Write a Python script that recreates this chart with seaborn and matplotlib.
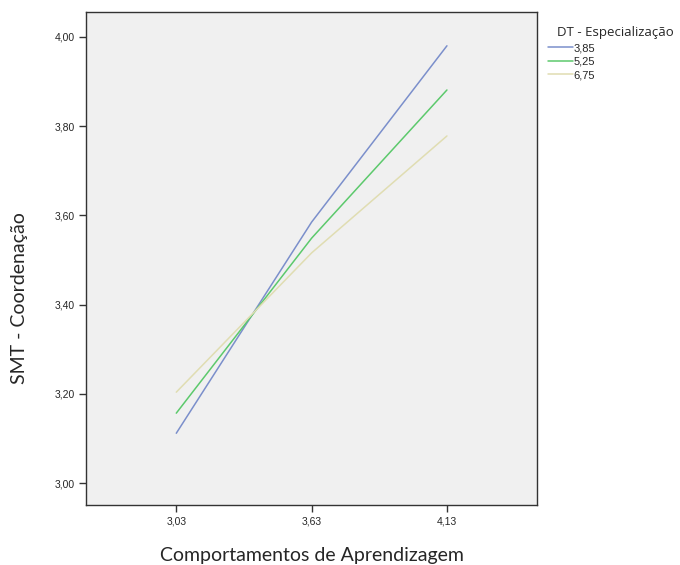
import matplotlib
matplotlib.use("Agg")
import matplotlib.pyplot as plt
import seaborn as sns
import pandas as pd

# Data
x_levels = ["3,03", "3,63", "4,13"]
groups = ["3,85", "5,25", "6,75"]
vals_385 = [3.112, 3.585, 3.980]
vals_525 = [3.157, 3.549, 3.881]
vals_675 = [3.204, 3.516, 3.778]
colors = ["#7b8fcb", "#5cc96c", "#e0ddb2"]

df = pd.DataFrame({
    "x": x_levels * 3,
    "y": vals_385 + vals_525 + vals_675,
    "grupo": [g for g in groups for _ in x_levels],
})

sns.set_style("white")
plt.rcParams['font.family'] = ['Liberation Sans', 'DejaVu Sans']

fig = plt.figure(figsize=(6.8, 5.65), dpi=100)
ax = fig.add_axes([0.1265, 0.106, 0.6635, 0.873])
ax.set_facecolor("#f0f0f0")

sns.lineplot(data=df, x="x", y="y", hue="grupo", palette=colors,
             sort=False, linewidth=1.1, ax=ax, legend=True)

ax.set_xlim(-0.667, 2.667)
ax.set_ylim(2.951, 4.056)
ax.set_yticks([3.0, 3.2, 3.4, 3.6, 3.8, 4.0])
ax.set_yticklabels(["3,00", "3,20", "3,40", "3,60", "3,80", "4,00"])
ax.tick_params(axis="both", labelsize=7.5, length=5, width=1, color="#333333",
               direction="out", pad=3, left=True, bottom=True)

for s in ax.spines.values():
    s.set_color("#333333")
    s.set_linewidth(1)

lab_font = ["Lato", "DejaVu Sans"]
ax.set_xlabel("Comportamentos de Aprendizagem", fontsize=14, family=lab_font,
              va="center")
ax.set_ylabel("SMT - Coordenação", fontsize=14, family=lab_font, va="center")
ax.xaxis.set_label_coords(0.5, -0.102)
ax.yaxis.set_label_coords(-0.148, 0.42)

handles, labels = ax.get_legend_handles_labels()
ax.legend(handles, labels, loc="upper left", bbox_to_anchor=(0.99, 0.968),
          frameon=False, fontsize=8, handlelength=2.2, handletextpad=0.05,
          labelspacing=0.32, borderaxespad=1.0)
fig.text(0.819, 0.943, "DT - Especialização", fontsize=9.5,
         family=["Open Sans", "DejaVu Sans"], va="center")

fig.savefig("out.png", dpi=100)
